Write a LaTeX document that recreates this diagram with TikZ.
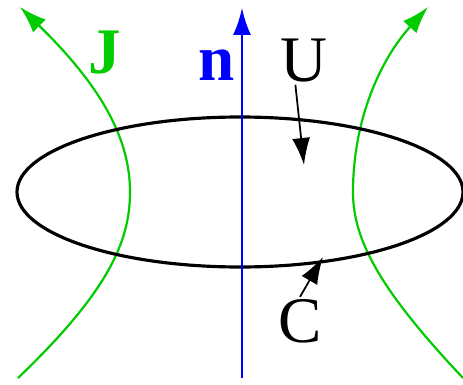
\documentclass[tikz,border=0pt]{standalone}
\usepackage{fontspec}
\setmainfont{Liberation Serif}
\usetikzlibrary{arrows.meta}

\begin{document}
\begin{tikzpicture}[x=0.02cm,y=-0.02cm,>={Latex[length=0.54cm,width=0.36cm]},
     lbl/.style={font=\fontsize{37}{40}\selectfont,inner sep=1pt,anchor=base},
     jline/.style={line width=1.25pt,green!80!black}]
     \useasboundingbox (0,0) rectangle (463,385);
     % points
     \coordinate (nbot) at (242,378);
     \coordinate (ntop) at (242,8);
     \coordinate (utip) at (304,165);
     \coordinate (ctip) at (323,257);
     \coordinate (jlb) at (18,378);
     \coordinate (jlv) at (130,192);
     \coordinate (jlt) at (20,7);
     \coordinate (jrb) at (463,378);
     \coordinate (jrv) at (353,192);
     \coordinate (jrt) at (428,7);

     % current lines J
     \draw[jline,->] (jlb) .. controls (110,290) and (130,240) .. (jlv)
          .. controls (130,140) and (103,88) .. (jlt);
     \draw[jline,->] (jrb) .. controls (380,290) and (353,240) .. (jrv)
          .. controls (353,120) and (380,60) .. (jrt);

     % boundary curve of the surface
     \draw[line width=1.8pt] (240,192) ellipse [x radius=223, y radius=75];

     % normal n
     \draw[->,line width=1.25pt,blue] (nbot) -- (ntop);

     % labels
     \node[lbl,text=green!80!black] (J) at (105,73) {\textbf{J}};
     \node[lbl,text=blue] (n) at (217,81) {\textbf{n}};
     \node[lbl] (U) at (304,82) {U};
     \node[lbl] (C) at (300,342) {C};

     % pointers
     \draw[->,line width=1pt] (U.250) -- (utip);
     \draw[->,line width=1pt] (C.north) -- (ctip);
\end{tikzpicture}
\end{document}
